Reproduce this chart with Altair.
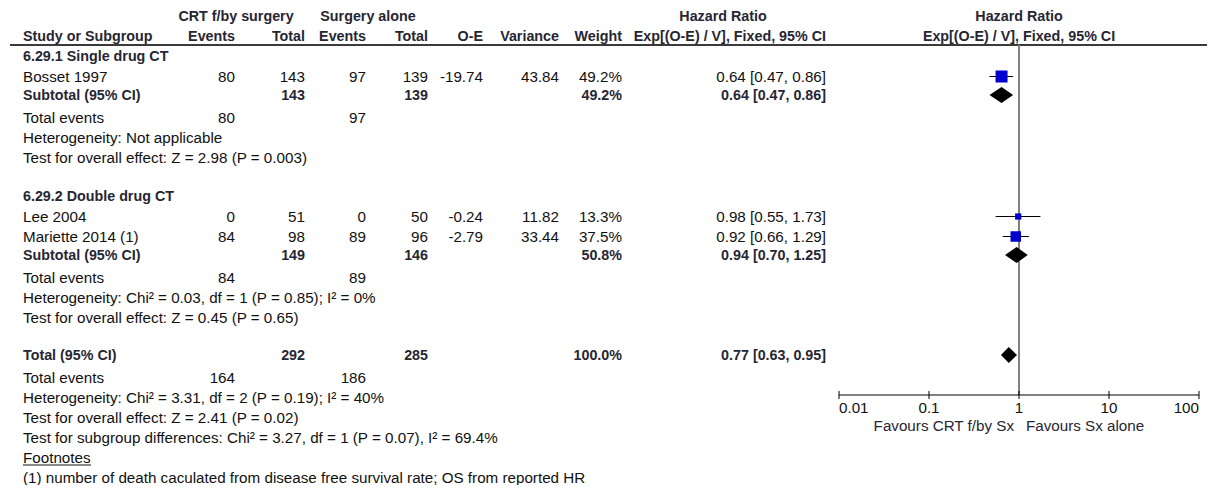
import altair as alt
import pandas as pd

# ---------------- data ----------------
subgroups = ["6.29.1 Single drug CT", "6.29.2 Double drug CT"]
study_names = ["Bosset 1997", "Lee 2004", "Mariette 2014 (1)"]
study_group = [0, 1, 1]
crt_events = [80, 0, 84]
crt_total = [143, 51, 98]
sx_events = [97, 0, 89]
sx_total = [139, 50, 96]
o_minus_e = [-19.74, -0.24, -2.79]
variance = [43.84, 11.82, 33.44]
weight = [49.2, 13.3, 37.5]
hr = [0.64, 0.98, 0.92]
hr_low = [0.47, 0.55, 0.66]
hr_high = [0.86, 1.73, 1.29]

sub_crt_total = [143, 149]
sub_sx_total = [139, 146]
sub_crt_events = [80, 84]
sub_sx_events = [97, 89]
sub_weight = [49.2, 50.8]
sub_hr = [0.64, 0.94]
sub_low = [0.47, 0.70]
sub_high = [0.86, 1.25]
sub_heterogeneity = ["Heterogeneity: Not applicable",
                     "Heterogeneity: Chi\u00b2 = 0.03, df = 1 (P = 0.85); I\u00b2 = 0%"]
sub_overall = ["Test for overall effect: Z = 2.98 (P = 0.003)",
               "Test for overall effect: Z = 0.45 (P = 0.65)"]

total_crt = [292]
total_sx = [285]
total_weight = [100.0]
total_hr = [0.77]
total_low = [0.63]
total_high = [0.95]
total_crt_events = [164]
total_sx_events = [186]
total_het = "Heterogeneity: Chi\u00b2 = 3.31, df = 2 (P = 0.19); I\u00b2 = 40%"
total_overall = "Test for overall effect: Z = 2.41 (P = 0.02)"
subgroup_diff = "Test for subgroup differences: Chi\u00b2 = 3.27, df = 1 (P = 0.07), I\u00b2 = 69.4%"
footnote_title = "Footnotes"
footnote_text = "(1) number of death caculated from disease free survival rate; OS from reported HR"

axis_ticks = [0.01, 0.1, 1, 10, 100]
axis_tick_labels = ["0.01", "0.1", "1", "10", "100"]
favours_left = "Favours CRT f/by Sx"
favours_right = "Favours Sx alone"

# ---------------- layout ----------------
FONT = "Liberation Sans"
FS = 15.2
FSB = 14.3
TXT = "#111111"
BOLD = "#262633"
col = dict(study=23, crt_e=235, crt_t=305, sx_e=366, sx_t=428,
           oe=483, var=559, wt=622, hrtxt=826)

def fmt_hr(v, l, h):
    return f"{v:.2f} [{l:.2f}, {h:.2f}]"

rows = []   # text, x, y(center), align, bold
markers = []  # squares / CIs
diamonds = []

def add(text, x, y, align="left", bold=False):
    rows.append(dict(text=str(text), x=x, y=y, align=align, bold=bold))

# headers
add("CRT f/by surgery", 236, 16, "center", True)
add("Surgery alone", 368, 16, "center", True)
add("Hazard Ratio", 723, 16, "center", True)
add("Hazard Ratio", 1019, 16, "center", True)
add("Study or Subgroup", col["study"], 36, "left", True)
add("Events", col["crt_e"], 36, "right", True)
add("Total", col["crt_t"], 36, "right", True)
add("Events", col["sx_e"], 36, "right", True)
add("Total", col["sx_t"], 36, "right", True)
add("O-E", col["oe"], 36, "right", True)
add("Variance", col["var"], 36, "right", True)
add("Weight", col["wt"], 36, "right", True)
add("Exp[(O-E) / V], Fixed, 95% CI", col["hrtxt"], 36, "right", True)
add("Exp[(O-E) / V], Fixed, 95% CI", 1019, 36, "center", True)

y = 56
for g, gname in enumerate(subgroups):
    add(gname, col["study"], y, "left", True)
    y += 21
    first = True
    for i, name in enumerate(study_names):
        if study_group[i] != g:
            continue
        if not first:
            y += 20
        first = False
        add(name, col["study"], y)
        add(crt_events[i], col["crt_e"], y, "right")
        add(crt_total[i], col["crt_t"], y, "right")
        add(sx_events[i], col["sx_e"], y, "right")
        add(sx_total[i], col["sx_t"], y, "right")
        add(f"{o_minus_e[i]:.2f}", col["oe"], y, "right")
        add(f"{variance[i]:.2f}", col["var"], y, "right")
        add(f"{weight[i]:.1f}%", col["wt"], y, "right")
        add(fmt_hr(hr[i], hr_low[i], hr_high[i]), col["hrtxt"], y, "right")
        markers.append(dict(hr=hr[i], lo=hr_low[i], hi=hr_high[i], w=weight[i], y=y - 0.5))
    y += 18
    add("Subtotal (95% CI)", col["study"], y, "left", True)
    add(sub_crt_total[g], col["crt_t"], y, "right", True)
    add(sub_sx_total[g], col["sx_t"], y, "right", True)
    add(f"{sub_weight[g]:.1f}%", col["wt"], y, "right", True)
    add(fmt_hr(sub_hr[g], sub_low[g], sub_high[g]), col["hrtxt"], y, "right", True)
    diamonds.append(dict(id=f"s{g}", hr=sub_hr[g], lo=sub_low[g], hi=sub_high[g], y=y))
    y += 23
    add("Total events", col["study"], y)
    add(sub_crt_events[g], col["crt_e"], y, "right")
    add(sub_sx_events[g], col["sx_e"], y, "right")
    y += 20
    add(sub_heterogeneity[g], col["study"], y)
    y += 20
    add(sub_overall[g], col["study"], y)
    y += 38
y -= 1
add("Total (95% CI)", col["study"], y, "left", True)
add(total_crt[0], col["crt_t"], y, "right", True)
add(total_sx[0], col["sx_t"], y, "right", True)
add(f"{total_weight[0]:.1f}%", col["wt"], y, "right", True)
add(fmt_hr(total_hr[0], total_low[0], total_high[0]), col["hrtxt"], y, "right", True)
diamonds.append(dict(id="t", hr=total_hr[0], lo=total_low[0], hi=total_high[0], y=y))
y += 23
add("Total events", col["study"], y)
add(total_crt_events[0], col["crt_e"], y, "right")
add(total_sx_events[0], col["sx_e"], y, "right")
for line in [total_het, total_overall, subgroup_diff, footnote_title, footnote_text]:
    y += 20
    add(line, col["study"], y)
footnote_y = y - 20

text_df = pd.DataFrame(rows)
text_df["yb"] = text_df["y"] + 5

# ---------------- scales ----------------
W, H = 1199, 477
tx = alt.Scale(domain=[8, 8 + W], range=[0, W], nice=False, zero=False)
ty = alt.Scale(domain=[8, 8 + H], range=[0, H], nice=False, zero=False)
fx = alt.Scale(type="log", domain=[0.01, 100], range=[839 - 8, 1199 - 8], nice=False)

def text_layer(df, align, bold):
    return alt.Chart(df).mark_text(
        align=align, baseline="alphabetic", font=FONT,
        fontSize=FSB if bold else FS, fontWeight="bold" if bold else "normal",
        color=BOLD if bold else TXT,
    ).encode(
        x=alt.X("x:Q", scale=tx, axis=None),
        y=alt.Y("yb:Q", scale=ty, axis=None),
        text="text:N",
    )

table_layers = []
for al in ["left", "right", "center"]:
    for b in [False, True]:
        sub = text_df[(text_df["align"] == al) & (text_df["bold"] == b)]
        if len(sub):
            table_layers.append(text_layer(sub, al, b))

header_line = alt.Chart(pd.DataFrame({"x": [10], "x2": [1207], "y": [45]})).mark_rule(
    color="#3a3a3a", strokeWidth=2
).encode(x=alt.X("x:Q", scale=tx, axis=None), x2="x2:Q", y=alt.Y("y:Q", scale=ty, axis=None))

fn_line = alt.Chart(pd.DataFrame({"x": [23], "x2": [91], "y": [footnote_y + 7]})).mark_rule(
    color=TXT, strokeWidth=1
).encode(x=alt.X("x:Q", scale=tx, axis=None), x2="x2:Q", y=alt.Y("y:Q", scale=ty, axis=None))

table = alt.layer(header_line, fn_line, *table_layers)

# ---------------- forest plot ----------------
mk = pd.DataFrame(markers)
AXIS_Y = 395

null_line = alt.Chart(pd.DataFrame({"x": [1.0], "y": [45], "y2": [AXIS_Y]})).mark_rule(
    color="#808080", strokeWidth=2
).encode(x=alt.X("x:Q", scale=fx, axis=None), y=alt.Y("y:Q", scale=ty, axis=None), y2="y2:Q")

ci = alt.Chart(mk).mark_rule(color="#000000", strokeWidth=1).encode(
    x=alt.X("lo:Q", scale=fx, axis=None), x2="hi:Q", y=alt.Y("y:Q", scale=ty, axis=None)
)
squares = alt.Chart(mk).mark_square(filled=True, color="#0000CC", opacity=1).encode(
    x=alt.X("hr:Q", scale=fx, axis=None),
    y=alt.Y("y:Q", scale=ty, axis=None),
    size=alt.Size("w:Q", scale=alt.Scale(type="linear", domain=[0, 100], range=[0, 293]), legend=None),
)

dpts = []
for d in diamonds:
    dpts.append(dict(id=d["id"], x=d["lo"], y=d["y"], y2=d["y"]))
    dpts.append(dict(id=d["id"], x=d["hr"], y=d["y"] - 8, y2=d["y"] + 8))
    dpts.append(dict(id=d["id"], x=d["hi"], y=d["y"], y2=d["y"]))
dia = alt.Chart(pd.DataFrame(dpts)).mark_area(
    color="#000000", opacity=1, orient="vertical", interpolate="linear"
).encode(
    x=alt.X("x:Q", scale=fx, axis=None),
    y=alt.Y("y:Q", scale=ty, axis=None, stack=False),
    y2="y2:Q",
    detail="id:N",
)

axis_line = alt.Chart(pd.DataFrame({"x": [axis_ticks[0]], "x2": [axis_ticks[-1]], "y": [AXIS_Y]})).mark_rule(
    color="#000000", strokeWidth=1
).encode(x=alt.X("x:Q", scale=fx, axis=None), x2="x2:Q", y=alt.Y("y:Q", scale=ty, axis=None))

tick_df = pd.DataFrame({"x": axis_ticks, "label": axis_tick_labels,
                        "y": [AXIS_Y - 4] * 5, "y2": [AXIS_Y + 4] * 5})
ticks = alt.Chart(tick_df).mark_rule(color="#000000", strokeWidth=1).encode(
    x=alt.X("x:Q", scale=fx, axis=None), y=alt.Y("y:Q", scale=ty, axis=None), y2="y2:Q"
)
tick_df["yb"] = AXIS_Y + 18
tick_df["align"] = ["left"] + ["center"] * 3 + ["right"]
tick_labels = [
    alt.Chart(tick_df[tick_df["align"] == al]).mark_text(
        align=al, baseline="alphabetic", font=FONT, fontSize=FS, color=TXT
    ).encode(x=alt.X("x:Q", scale=fx, axis=None), y=alt.Y("yb:Q", scale=ty, axis=None), text="label:N")
    for al in ["left", "center", "right"]
]

fav_df = pd.DataFrame({"x": [1.0, 1.0], "yb": [AXIS_Y + 36] * 2, "t": [favours_left, favours_right]})
fav_l = alt.Chart(fav_df.iloc[[0]]).mark_text(
    align="right", baseline="alphabetic", font=FONT, fontSize=FS, color=BOLD, dx=-5
).encode(x=alt.X("x:Q", scale=fx, axis=None), y=alt.Y("yb:Q", scale=ty, axis=None), text="t:N")
fav_r = alt.Chart(fav_df.iloc[[1]]).mark_text(
    align="left", baseline="alphabetic", font=FONT, fontSize=FS, color=BOLD, dx=7
).encode(x=alt.X("x:Q", scale=fx, axis=None), y=alt.Y("yb:Q", scale=ty, axis=None), text="t:N")

forest = alt.layer(null_line, ci, squares, dia, axis_line, ticks, *tick_labels, fav_l, fav_r)

chart = alt.layer(table, forest).resolve_scale(x="independent").properties(
    width=W, height=H, padding=0, autosize=alt.AutoSizeParams(type="none"),
    background="white",
).configure_view(stroke=None)

chart.save("out.html", embed_options={"renderer": "svg", "actions": False})
